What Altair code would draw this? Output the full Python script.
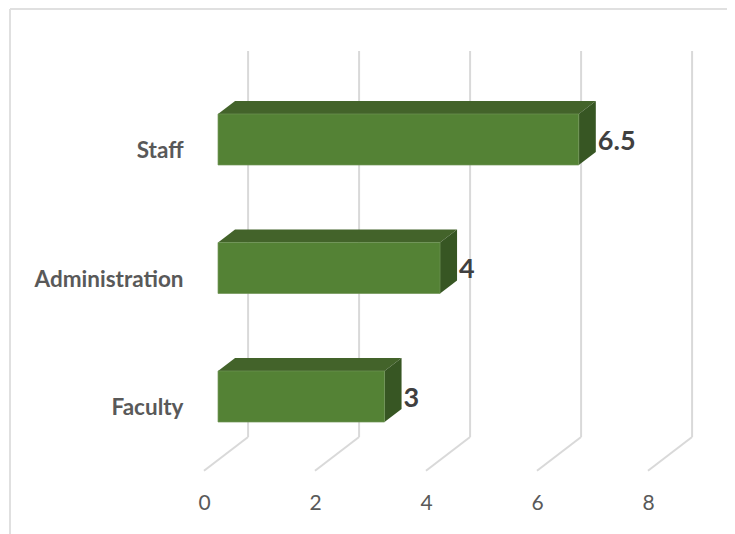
import altair as alt
import pandas as pd

categories = ["Faculty", "Administration", "Staff"]
values = [3, 4, 6.5]
ticks = [0, 2, 4, 6, 8]

PX_X = 55.4
PX_Y = 128.5
X0, Y0 = 204, 472          # page position of value 0 / row 0
BAR_SHIFT = 14 / PX_X      # bar front offset from the floor's front edge
WALL_SHIFT = 44 / PX_X     # back wall offset
DX, DY = 17 / PX_X, 13 / PX_Y   # bar depth
BAR_LOW, BAR_HIGH = 0.389, 0.786
WALL_LOW, WALL_TOP = 0.272, 3.276
FLOOR_FRONT = 0.01

front, faces, labels = [], [], []
for i, (c, v) in enumerate(zip(categories, values)):
    lo, hi = i + BAR_LOW, i + BAR_HIGH
    a, b = BAR_SHIFT, BAR_SHIFT + v
    front.append(dict(c=c, x=a, x2=b, y=lo, y2=hi))
    for px, pl, ph in [(a, hi, hi), (a + DX, hi, hi + DY), (b, hi, hi + DY), (b + DX, hi + DY, hi + DY)]:
        faces.append(dict(face=f"top{i}", kind="top", x=px, y=pl, y2=ph))
    for px, pl, ph in [(b, lo, hi), (b + DX, lo + DY, hi + DY)]:
        faces.append(dict(face=f"side{i}", kind="side", x=px, y=pl, y2=ph))
    labels.append(dict(x=b + DX + 2 / PX_X, y=i + 0.57, t=str(v)))

grid = pd.DataFrame([dict(v=t, wx=t + WALL_SHIFT, y=WALL_LOW, y2=WALL_TOP, fy=FLOOR_FRONT) for t in ticks])
front = pd.DataFrame(front)
faces = pd.DataFrame(faces)
labels = pd.DataFrame(labels)

FONT = "Lato"
xs = alt.Scale(domain=[0, 8], nice=False, zero=False)
ys = alt.Scale(domain=[0, WALL_TOP], nice=False, zero=False)
label_expr = "{0.5:'Faculty',1.5:'Administration',2.5:'Staff'}[datum.value]"

xaxis = alt.Axis(values=ticks, format="d", title=None, grid=False, domain=False, ticks=False, labelPadding=20,
                 labelFlush=False, labelFont=FONT, labelFontSize=21, labelColor="#595959", labelAngle=0)
yaxis = alt.Axis(values=[0.5, 1.5, 2.5], labelExpr=label_expr, title=None, grid=False, domain=False, ticks=False,
                 labelPadding=21, labelFont=FONT, labelFontSize=22.5, labelFontWeight="bold", labelColor="#595959")

wall = alt.Chart(grid).mark_rule(color="#d9d9d9", strokeWidth=2).encode(
    x=alt.X("wx:Q", scale=xs, axis=xaxis), y=alt.Y("y:Q", scale=ys, axis=yaxis), y2="y2:Q")
floor = alt.Chart(grid).mark_rule(color="#d9d9d9", strokeWidth=2).encode(
    x=alt.X("v:Q", scale=xs), x2="wx:Q", y=alt.Y("fy:Q", scale=ys), y2="y:Q")
frame_top = alt.Chart(grid).mark_rule(color="#e0e0e0", strokeWidth=2).encode(
    x=alt.value(-194), x2=alt.value(523), y=alt.value(-42))
frame_left = alt.Chart(grid).mark_rule(color="#e0e0e0", strokeWidth=2).encode(
    x=alt.value(-194), y=alt.value(-42), y2=alt.value(483))

front_m = alt.Chart(front).mark_rect(color="#548235", stroke="#6f9455", strokeWidth=0.7).encode(
    x=alt.X("x:Q", scale=xs), x2="x2:Q", y=alt.Y("y:Q", scale=ys), y2="y2:Q")
face_m = alt.Chart(faces).mark_area(opacity=1, orient="vertical").encode(
    x=alt.X("x:Q", scale=xs), y=alt.Y("y:Q", scale=ys, stack=None), y2="y2:Q", detail="face:N",
    color=alt.Color("kind:N", scale=alt.Scale(domain=["top", "side"], range=["#43632a", "#375623"]), legend=None))
text = alt.Chart(labels).mark_text(font=FONT, fontSize=27, fontWeight="bold", color="#404040", align="left", baseline="middle").encode(
    x=alt.X("x:Q", scale=xs), y=alt.Y("y:Q", scale=ys), text="t:N")

chart = alt.layer(frame_top, frame_left, wall, floor, face_m, front_m, text).properties(
    width=444, height=421,
    autosize=alt.AutoSizeParams(type="none"),
    padding=alt.Padding(left=X0 - 8, top=51 - 8, right=79, bottom=62),
).configure_view(stroke=None)

chart.save("out.html", embed_options={"renderer": "svg", "actions": False})
